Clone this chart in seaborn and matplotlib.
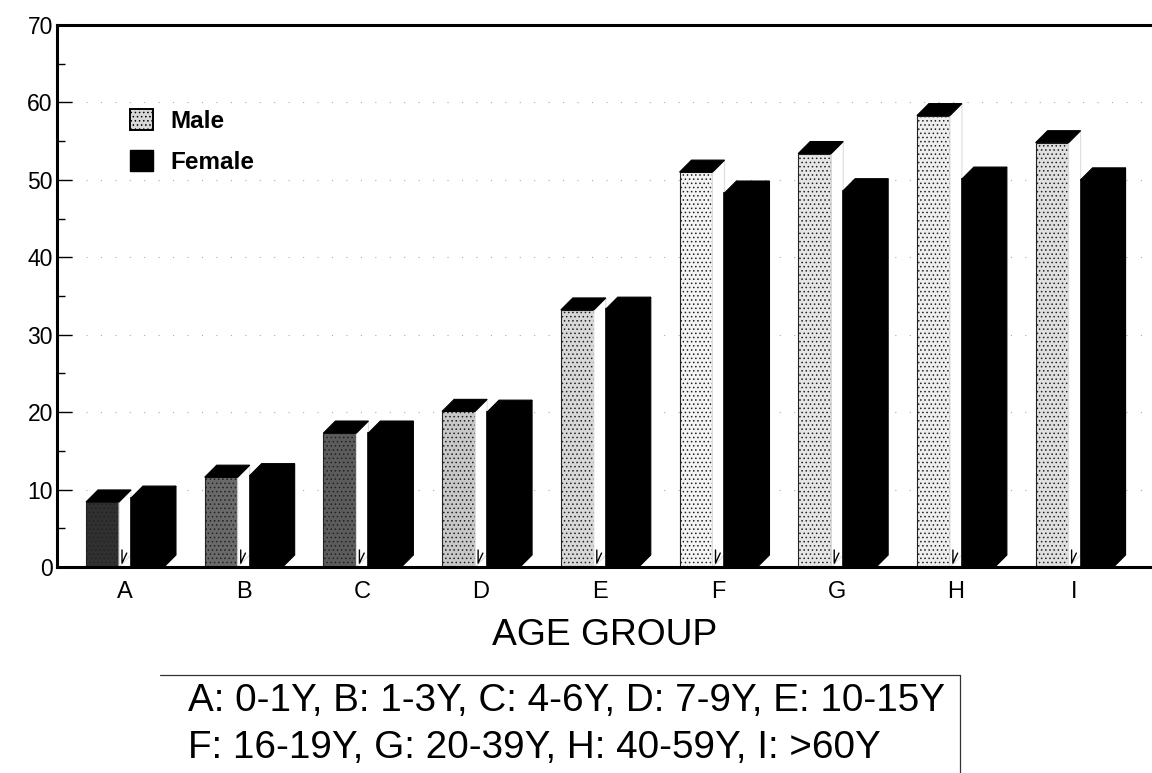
import matplotlib
matplotlib.use("Agg")
import matplotlib.pyplot as plt
from matplotlib.lines import Line2D
from matplotlib.patches import Patch, Polygon
import pandas as pd
import seaborn as sns

groups = ["A", "B", "C", "D", "E", "F", "G", "H", "I"]
male = [8.4, 11.6, 17.3, 20.1, 33.2, 51.0, 53.4, 58.3, 54.8]
female = [8.9, 11.8, 17.3, 20.0, 33.3, 48.3, 48.6, 50.1, 50.0]
male_shades = ["#303030", "#6a6a6a", "#5c5c5c", "#c8c8c8", "#d8d8d8", "#f4f4f4", "#e6e6e6", "#eeeeee", "#e0e0e0"]
note_lines = ["A: 0-1Y, B: 1-3Y, C: 4-6Y, D: 7-9Y, E: 10-15Y", "F: 16-19Y, G: 20-39Y, H: 40-59Y, I: >60Y"]

sns.set_theme(style="white")
plt.rcParams["font.family"] = ["Liberation Sans", "DejaVu Sans"]
plt.rcParams["hatch.linewidth"] = 0.6

W, H = 1152, 773
fig = plt.figure(figsize=(W / 100, H / 100), dpi=100)
L, R, T, B = 57, 1152, 25, 567
ax = fig.add_axes([L / W, 1 - B / H, (R - L) / W, (B - T) / H])

df = pd.DataFrame({
    "group": groups * 2,
    "sex": ["Male"] * 9 + ["Female"] * 9,
    "value": male + female,
})
sns.barplot(data=df, x="group", y="value", hue="sex", order=groups, hue_order=["Male", "Female"],
            palette={"Male": "#cccccc", "Female": "black"}, width=0.757, gap=0.265,
            legend=False, ax=ax, saturation=1, zorder=3)

step = 118.7
ax.set_xlim((L - 125) / step, (R - 125) / step)
ax.set_ylim(0, 70)

# 3-D depth offsets, expressed in data units
dx = 12 / step
dy = 12 / 7.74

def depth_faces(patch, side_color, top_color, edge):
    x0, x1, h = patch.get_x(), patch.get_x() + patch.get_width(), patch.get_height()
    side = Polygon([(x1, 0), (x1 + dx, dy), (x1 + dx, h + dy), (x1, h)], closed=True,
                   facecolor=side_color, edgecolor=edge, lw=0.8, zorder=3)
    top = Polygon([(x0, h), (x0 + dx, h + dy), (x1 + dx, h + dy), (x1, h)], closed=True,
                  facecolor=top_color, edgecolor=top_color, lw=0.8, zorder=3)
    ax.add_patch(side)
    ax.add_patch(top)

for patch, shade in zip(ax.containers[0], male_shades):
    patch.set_facecolor(shade)
    patch.set_edgecolor("#222222")
    patch.set_linewidth(0.8)
    patch.set_hatch("....")
    depth_faces(patch, "white", "black", "#dddddd")
    x1 = patch.get_x() + patch.get_width()
    ax.plot([x1 + 0.025, x1 + 0.025, x1 + 0.065], [2.2, 0.5, 1.8], color="black", lw=1, zorder=4)

for patch in ax.containers[1]:
    patch.set_edgecolor("black")
    patch.set_linewidth(1.2)
    patch.set_zorder(4)
    depth_faces(patch, "black", "black", "black")

# Axes frame
for s in ["left", "bottom", "top"]:
    ax.spines[s].set_visible(True)
    ax.spines[s].set_color("black")
    ax.spines[s].set_linewidth(2.2)
    ax.spines[s].set_zorder(5)
ax.spines["right"].set_visible(False)

ax.set_yticks(range(0, 71, 10))
ax.set_yticks(range(5, 70, 10), minor=True)
ax.tick_params(axis="y", which="major", direction="in", length=11, width=1, color="black",
               labelsize=16.5, labelcolor="black", pad=3, left=True)
ax.tick_params(axis="y", which="minor", direction="in", length=6, width=1, color="black", left=True)
ax.tick_params(axis="x", length=0, labelsize=17, labelcolor="black", pad=10)
ax.grid(axis="y", which="major", color="#aaaaaa", lw=0.8, linestyle=(0, (1, 12)), zorder=0)
ax.set_axisbelow(True)
ax.set_ylabel("")
ax.set_xlabel("AGE GROUP", fontsize=26.8, color="black", labelpad=11)

# Legend
handles = [Patch(facecolor="#d8d8d8", edgecolor="black", hatch="....", lw=1.4),
           Patch(facecolor="black", edgecolor="black")]
leg = ax.legend(handles, ["Male", "Female"], frameon=False, loc="upper left",
                bbox_to_anchor=((130 - L) / (R - L), 1 - (109 - T) / (B - T)),
                borderaxespad=0, borderpad=0, handlelength=0.95, handleheight=0.95, handletextpad=0.7,
                labelspacing=0.7, prop={"weight": "bold", "size": 17.5})
for t in leg.get_texts():
    t.set_color("black")

# Footnote box
for text, y in zip(note_lines, [701, 748]):
    fig.text(188 / W, 1 - y / H, text, fontsize=27.8, color="black", va="center", ha="left")
fig.add_artist(Line2D([160 / W, 960 / W], [1 - 675 / H] * 2, color="#333333", lw=0.9))
fig.add_artist(Line2D([960 / W, 960 / W], [1 - 675 / H, 1 - 773 / H], color="#333333", lw=0.9))

fig.savefig("out.png", dpi=100, facecolor="white")
